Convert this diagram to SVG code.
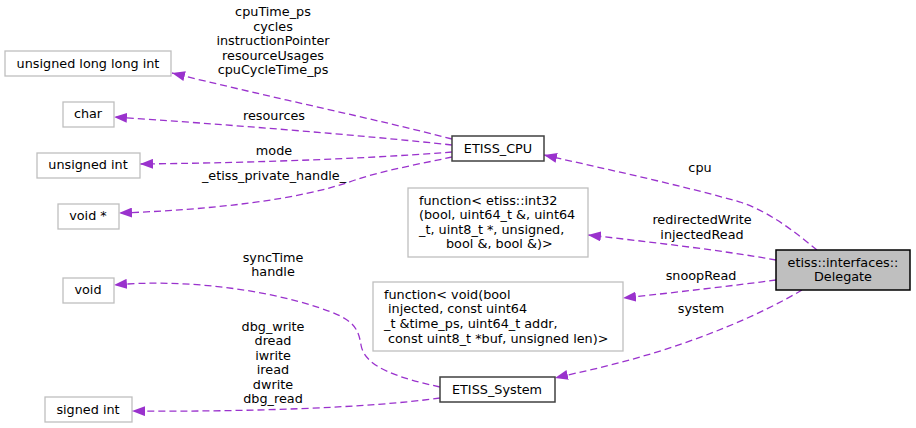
<svg xmlns="http://www.w3.org/2000/svg" width="916" height="428" viewBox="0 0 916 428">
<style>
text{font-family:"DejaVu Sans",sans-serif;font-size:12.8px;fill:#000}
.m{text-anchor:middle}
.ext{fill:#fff;stroke:#bfbfbf;stroke-width:1.3}
.cls{fill:#fff;stroke:#404040;stroke-width:1.5}
.cur{fill:#bfbfbf;stroke:#000;stroke-width:1.5}
.e{fill:none;stroke:#9a32cd;stroke-width:1.3;stroke-dasharray:7,4;marker-end:url(#a)}
</style>
<defs>
<marker id="a" markerUnits="userSpaceOnUse" markerWidth="13" markerHeight="10" refX="13" refY="5" orient="auto">
<path d="M0,0 L13,5 L0,10 z" fill="#9a32cd"/>
</marker>
</defs>
<rect width="916" height="428" fill="#fff"/>
<g id="edges">
<path class="e" d="M452,139 C380,120 260,95 172,73"/>
<path class="e" d="M452,145 C360,135 220,124 114,117"/>
<path class="e" d="M452,152 C350,160 230,163 140,164"/>
<path class="e" d="M452,157 C420,164 385,170 355,180 C300,200 210,210 119,213"/>
<path class="e" d="M817,250 C795,232 770,212 740,202 C680,185 610,170 544,155"/>
<path class="e" d="M776,260 C720,250 650,242 588,235"/>
<path class="e" d="M776,280 C730,286 680,292 623,298"/>
<path class="e" d="M802,290 C760,315 700,340 640,357 C610,366 580,372 555,378"/>
<path class="e" d="M440,387 C400,378 365,368 361,345 C358,325 350,318 320,308 C260,288 180,279 114,285"/>
<path class="e" d="M440,398 C370,408 240,412 132,411"/>
<g id="edge-labels">
<text class="m" x="273" y="16">cpuTime_ps</text>
<text class="m" x="273" y="31">cycles</text>
<text class="m" x="273" y="45">instructionPointer</text>
<text class="m" x="273" y="60">resourceUsages</text>
<text class="m" x="273" y="74">cpuCycleTime_ps</text>
<text class="m" x="274" y="120">resources</text>
<text class="m" x="274" y="155">mode</text>
<text class="m" x="274" y="180">_etiss_private_handle_</text>
<text class="m" x="700" y="172">cpu</text>
<text class="m" x="702" y="224">redirectedWrite</text>
<text class="m" x="702" y="239">injectedRead</text>
<text class="m" x="701" y="280">snoopRead</text>
<text class="m" x="701" y="313">system</text>
<text class="m" x="273" y="262">syncTime</text>
<text class="m" x="273" y="276">handle</text>
<text class="m" x="273" y="331">dbg_write</text>
<text class="m" x="273" y="345">dread</text>
<text class="m" x="273" y="360">iwrite</text>
<text class="m" x="273" y="374">iread</text>
<text class="m" x="273" y="389">dwrite</text>
<text class="m" x="273" y="403">dbg_read</text>
</g>
</g>
<g id="node-ulli"><rect class="ext" x="5" y="51" width="166" height="25"/><text class="m" x="88" y="68">unsigned long long int</text></g>
<g id="node-char"><rect class="ext" x="63" y="102" width="51" height="25"/><text class="m" x="88" y="118">char</text></g>
<g id="node-uint"><rect class="ext" x="37" y="153" width="103" height="25"/><text class="m" x="88" y="169">unsigned int</text></g>
<g id="node-voidptr"><rect class="ext" x="58" y="204" width="61" height="25"/><text class="m" x="88" y="220">void *</text></g>
<g id="node-cpu"><rect class="cls" x="452" y="136" width="92" height="25"/><text class="m" x="498" y="153">ETISS_CPU</text></g>
<g id="node-fint"><rect class="ext" x="408" y="188" width="180" height="69"/>
<text x="419" y="205">function&lt; etiss::int32</text>
<text x="419" y="219">(bool, uint64_t &amp;, uint64</text>
<text x="419" y="234">_t, uint8_t *, unsigned,</text>
<text x="446" y="248">bool &amp;, bool &amp;)&gt;</text></g>
<g id="node-delegate"><rect class="cur" x="776" y="250" width="134" height="40"/><text class="m" x="843" y="267">etiss::interfaces::</text><text class="m" x="843" y="281">Delegate</text></g>
<g id="node-void"><rect class="ext" x="63" y="278" width="51" height="25"/><text class="m" x="88" y="294">void</text></g>
<g id="node-fvoid"><rect class="ext" x="373" y="282" width="250" height="69"/>
<text x="384" y="299">function&lt; void(bool</text>
<text x="388" y="313">injected, const uint64</text>
<text x="384" y="328">_t &amp;time_ps, uint64_t addr,</text>
<text x="388" y="343">const uint8_t *buf, unsigned len)&gt;</text></g>
<g id="node-system"><rect class="cls" x="440" y="377" width="115" height="25"/><text class="m" x="497" y="394">ETISS_System</text></g>
<g id="node-sint"><rect class="ext" x="45" y="397" width="87" height="25"/><text class="m" x="88" y="414">signed int</text></g>
</svg>
